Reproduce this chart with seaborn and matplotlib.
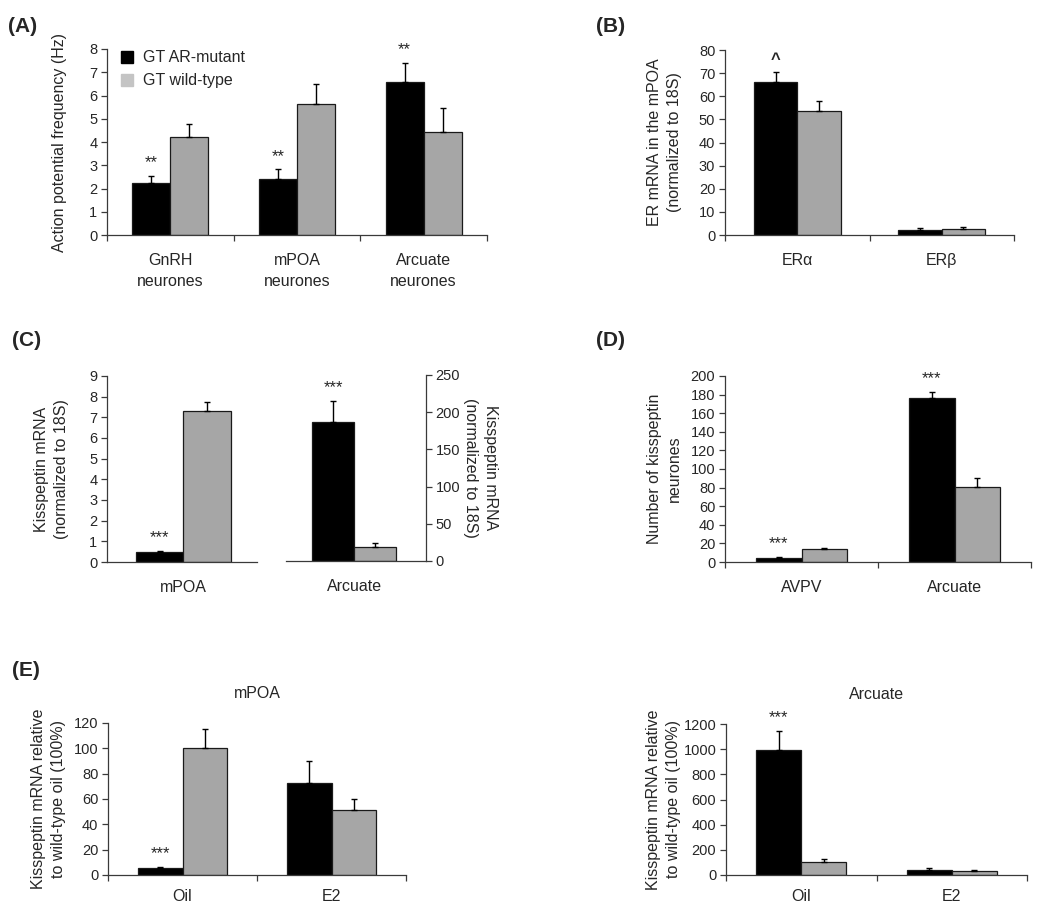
import matplotlib
matplotlib.use("Agg")
import matplotlib.pyplot as plt
import seaborn as sns
import pandas as pd
from matplotlib.patches import Patch

# ---- data (mean, SEM) ----
GROUPS = ["GT AR-mutant", "GT wild-type"]

a_cats = ["GnRH\nneurones", "mPOA\nneurones", "Arcuate\nneurones"]
a_mut = [2.23, 2.40, 6.57]
a_mut_sem = [0.31, 0.43, 0.84]
a_wt = [4.21, 5.62, 4.41]
a_wt_sem = [0.57, 0.86, 1.05]
a_mut_sig = ["**", "**", "**"]

b_cats = ["ER\u03b1", "ER\u03b2"]
b_mut = [66.0, 2.3]
b_mut_sem = [4.3, 0.8]
b_wt = [53.6, 2.6]
b_wt_sem = [4.2, 0.8]
b_mut_sig = ["^", ""]

c_left_cats = ["mPOA"]
c_left_mut = [0.48]
c_left_mut_sem = [0.05]
c_left_wt = [7.30]
c_left_wt_sem = [0.43]
c_left_sig = ["***"]

c_right_cats = ["Arcuate"]
c_right_mut = [187.0]
c_right_mut_sem = [28.0]
c_right_wt = [19.2]
c_right_wt_sem = [4.6]
c_right_sig = ["***"]

d_cats = ["AVPV", "Arcuate"]
d_mut = [4.3, 176.0]
d_mut_sem = [1.1, 6.7]
d_wt = [14.0, 80.4]
d_wt_sem = [1.5, 10.4]
d_mut_sig = ["***", "***"]

e1_cats = ["Oil", "E2"]
e1_mut = [5.5, 73.0]
e1_mut_sem = [0.8, 16.7]
e1_wt = [100.5, 51.6]
e1_wt_sem = [14.5, 8.7]
e1_mut_sig = ["***", ""]

e2_cats = ["Oil", "E2"]
e2_mut = [997.0, 42.0]
e2_mut_sem = [151.0, 11.0]
e2_wt = [103.0, 34.0]
e2_wt_sem = [24.0, 8.0]
e2_mut_sig = ["***", ""]

BLACK = "#000000"
GREY = "#a6a6a6"
SPINE = "#3a3a3a"
LABEL_FS = 11.5

W, H = 1050, 915

sns.set_theme(style="white")
plt.rcParams["font.family"] = ["Liberation Sans", "DejaVu Sans"]
plt.rcParams["axes.linewidth"] = 0.9

fig = plt.figure(figsize=(W / 100, H / 100), dpi=100)


def add_ax(x0, y0, x1, y1):
    return fig.add_axes([x0 / W, 1 - y1 / H, (x1 - x0) / W, (y1 - y0) / H])


def draw_bars(ax, cats, mut, mut_sem, wt, wt_sem, sig):
    df = pd.DataFrame({
        "cat": cats * 2,
        "grp": [GROUPS[0]] * len(cats) + [GROUPS[1]] * len(cats),
        "val": list(mut) + list(wt),
    })
    sns.barplot(data=df, x="cat", y="val", hue="grp", order=cats, hue_order=GROUPS,
                palette=[BLACK, GREY], width=0.6, edgecolor="#1a1a1a", linewidth=0.9,
                errorbar=None, legend=False, ax=ax)
    for cont, sems, marks in zip(ax.containers, [mut_sem, wt_sem], [sig, [""] * len(cats)]):
        for bar, s, m in zip(cont, sems, marks):
            x = bar.get_x() + bar.get_width() / 2
            top = bar.get_height()
            ax.errorbar(x, top, yerr=[[0], [s]], fmt="none", ecolor="black",
                        elinewidth=1.0, capsize=2, capthick=1.0)
            if m:
                ax.annotate(m, (x, top + s), xytext=(0, 4), textcoords="offset points",
                            ha="center", va="bottom", fontsize=12,
                            fontweight="bold" if m == "^" else "normal")


def style_ax(ax, ylim, yticks, cat_ticks=True, right=False):
    ax.set_ylim(*ylim)
    ax.set_yticks(yticks)
    ax.set_xlabel("")
    ax.set_ylabel("")
    for s in ["top", "right", "left", "bottom"]:
        ax.spines[s].set_visible(False)
    ax.spines["bottom"].set_visible(True)
    ax.spines["bottom"].set_color(SPINE)
    side = "right" if right else "left"
    ax.spines[side].set_visible(True)
    ax.spines[side].set_color(SPINE)
    if right:
        ax.yaxis.tick_right()
        ax.yaxis.set_label_position("right")
    ax.tick_params(axis="y", which="major", direction="out", length=4, width=0.9,
                   color=SPINE, labelsize=10.5, pad=3, left=not right, right=right,
                   labelleft=not right, labelright=right)
    ax.tick_params(axis="x", which="major", length=0, labelsize=LABEL_FS, pad=13)
    if cat_ticks:
        n = len(ax.get_xticks())
        ax.set_xticks([i - 0.5 for i in range(n + 1)], minor=True)
        ax.tick_params(axis="x", which="minor", direction="out", length=4, width=0.9,
                       color=SPINE, bottom=True)
    for lab in ax.get_xticklabels():
        lab.set_linespacing(1.5)


def ylab(ax, text, xfrac, right=False):
    ax.set_ylabel(text, fontsize=LABEL_FS, linespacing=1.4)
    if right:
        ax.yaxis.label.set_rotation(270)
        ax.yaxis.label.set_va("bottom")
    ax.yaxis.set_label_coords(xfrac, 0.5)


# ---- (A) ----
axA = add_ax(107, 49, 487, 235)
draw_bars(axA, a_cats, a_mut, a_mut_sem, a_wt, a_wt_sem, a_mut_sig)
style_ax(axA, (0, 8), range(0, 9))
ylab(axA, "Action potential frequency (Hz)", -0.105)
axA.legend(handles=[Patch(facecolor=BLACK, edgecolor=BLACK, label=GROUPS[0]),
                    Patch(facecolor="#c4c4c4", edgecolor="#c4c4c4", label=GROUPS[1])],
           loc="upper left", bbox_to_anchor=(0.0, 1.07), frameon=False, fontsize=LABEL_FS,
           handlelength=0.75, handleheight=0.75, handletextpad=0.6, labelspacing=0.5)

# ---- (B) ----
axB = add_ax(725, 50, 1014, 235)
draw_bars(axB, b_cats, b_mut, b_mut_sem, b_wt, b_wt_sem, b_mut_sig)
style_ax(axB, (0, 80), range(0, 81, 10))
ylab(axB, "ER mRNA in the mPOA\n(normalized to 18S)", -0.15)

# ---- (C) ----
axC1 = add_ax(107, 376, 257, 562)
draw_bars(axC1, c_left_cats, c_left_mut, c_left_mut_sem, c_left_wt, c_left_wt_sem, c_left_sig)
style_ax(axC1, (0, 9), range(0, 10), cat_ticks=False)
axC1.set_xlim(-0.487, 0.468)
ylab(axC1, "Kisspeptin mRNA\n(normalized to 18S)", -0.255)

axC2 = add_ax(286, 375, 426, 561)
draw_bars(axC2, c_right_cats, c_right_mut, c_right_mut_sem, c_right_wt, c_right_wt_sem, c_right_sig)
style_ax(axC2, (0, 250), range(0, 251, 50), cat_ticks=False, right=True)
axC2.set_xlim(-0.486, 0.514)
ylab(axC2, "Kisspeptin mRNA\n(normalized to 18S)", 1.265, right=True)

# ---- (D) ----
axD = add_ax(725, 376, 1031, 562)
draw_bars(axD, d_cats, d_mut, d_mut_sem, d_wt, d_wt_sem, d_mut_sig)
style_ax(axD, (0, 200), range(0, 201, 20))
ylab(axD, "Number of kisspeptin\nneurones", -0.14)

# ---- (E) ----
axE1 = add_ax(108, 723, 406, 875)
draw_bars(axE1, e1_cats, e1_mut, e1_mut_sem, e1_wt, e1_wt_sem, e1_mut_sig)
style_ax(axE1, (0, 120), range(0, 121, 20))
axE1.tick_params(axis="x", which="major", pad=10)
axE1.set_title("mPOA", fontsize=LABEL_FS, pad=18)
ylab(axE1, "Kisspeptin mRNA relative\nto wild-type oil (100%)", -0.141)

axE2 = add_ax(726, 724, 1027, 875)
draw_bars(axE2, e2_cats, e2_mut, e2_mut_sem, e2_wt, e2_wt_sem, e2_mut_sig)
style_ax(axE2, (0, 1200), range(0, 1201, 200))
axE2.tick_params(axis="x", which="major", pad=10)
axE2.set_title("Arcuate", fontsize=LABEL_FS, pad=18)
ylab(axE2, "Kisspeptin mRNA relative\nto wild-type oil (100%)", -0.15)

# panel letters
for letter, x, y in [("(A)", 8, 26), ("(B)", 596, 26), ("(C)", 12, 340),
                     ("(D)", 596, 341), ("(E)", 12, 670)]:
    fig.text(x / W, 1 - y / H, letter, fontsize=15, fontweight="bold",
             ha="left", va="center")

fig.savefig("out.png", dpi=100, facecolor="white")
